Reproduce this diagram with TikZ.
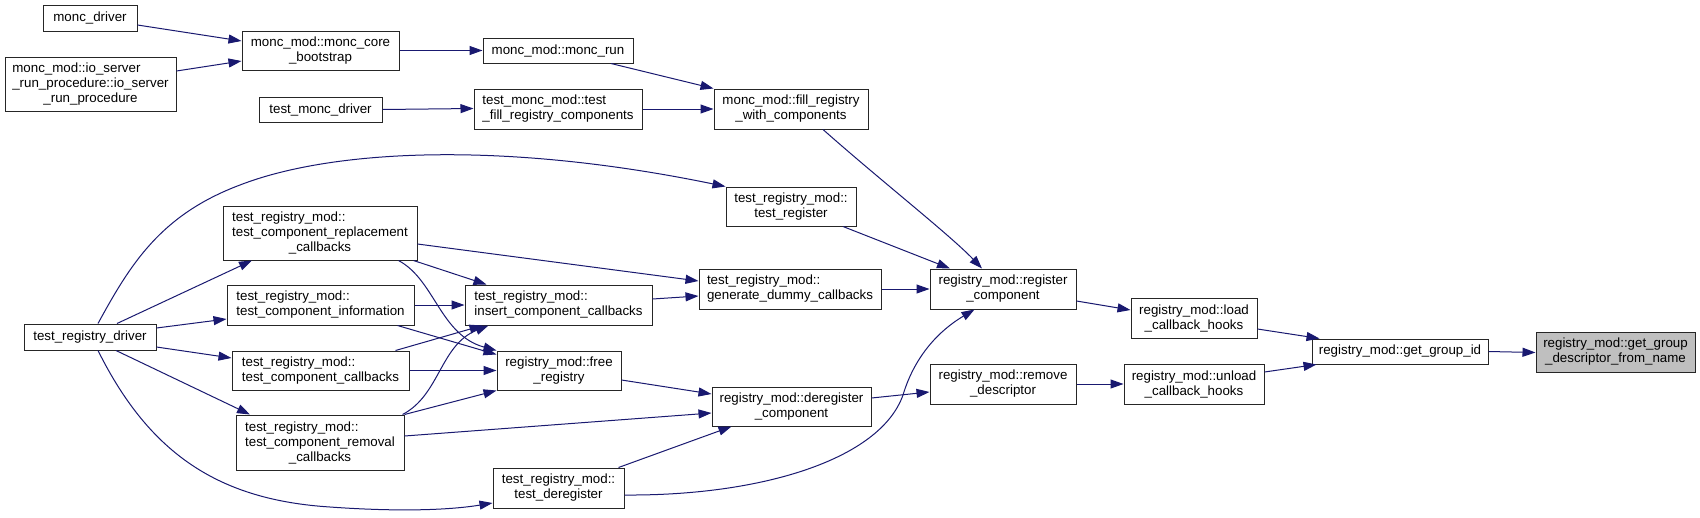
\documentclass[tikz,border=0pt]{standalone}
\usepackage{fontspec}
\setmainfont{Liberation Sans}
\usetikzlibrary{arrows.meta}
\definecolor{edgec}{RGB}{25,25,112}
\definecolor{hl}{RGB}{191,191,191}
\newlength\firstlw
\newcommand\firstl[2]{\settowidth\firstlw{#2}\makebox[\firstlw][l]{#1}}
\tikzset{
  fn/.style={draw=black!85, line width=1pt, fill=white, rectangle, inner sep=0pt,
    align=center, font=\fontsize{13.33}{15}\selectfont},
  call/.style={draw=edgec, line width=1pt, -{Triangle[length=13pt,width=9pt]}, edgec}
}
\begin{document}
\begin{tikzpicture}[x=1pt,y=-1pt]
\useasboundingbox[fill=white] (0,0) rectangle (1700,517);
% nodes
\node[fn, minimum width=94, minimum height=26] (mdrv) at (90,18) {monc\_driver};
\node[fn, minimum width=157, minimum height=39] (mcb) at (320.5,50.5) {monc\_mod::monc\_core\\\_bootstrap};
\node[fn, minimum width=171, minimum height=54] (ios) at (90.5,84) {\firstl{monc\_mod::io\_server}{\_run\_procedure::io\_server}\\\_run\_procedure::io\_server\\\_run\_procedure};
\node[fn, minimum width=123, minimum height=25] (tmd) at (320.5,109.5) {test\_monc\_driver};
\node[fn, minimum width=150, minimum height=25] (mrun) at (558,50.5) {monc\_mod::monc\_run};
\node[fn, minimum width=168, minimum height=40] (tfrc) at (558,109) {\firstl{test\_monc\_mod::test}{\_fill\_registry\_components}\\\_fill\_registry\_components};
\node[fn, minimum width=154, minimum height=40] (frwc) at (791,109) {monc\_mod::fill\_registry\\\_with\_components};
\node[fn, minimum width=132, minimum height=26] (trd) at (90,337) {test\_registry\_driver};
\node[fn, minimum width=194, minimum height=54] (tcrc) at (320,233) {\firstl{test\_registry\_mod::}{test\_component\_replacement}\\test\_component\_replacement\\\_callbacks};
\node[fn, minimum width=187, minimum height=40] (tci) at (320.5,305) {\firstl{test\_registry\_mod::}{test\_component\_information}\\test\_component\_information};
\node[fn, minimum width=177, minimum height=39] (tcc) at (320.5,370.5) {\firstl{test\_registry\_mod::}{test\_component\_callbacks}\\test\_component\_callbacks};
\node[fn, minimum width=168, minimum height=55] (tcrm) at (320,442.5) {\firstl{test\_registry\_mod::}{test\_component\_removal}\\test\_component\_removal\\\_callbacks};
\node[fn, minimum width=130, minimum height=39] (treg) at (791,206.5) {test\_registry\_mod::\\test\_register};
\node[fn, minimum width=182, minimum height=40] (gdc) at (790,289) {\firstl{test\_registry\_mod::}{generate\_dummy\_callbacks}\\generate\_dummy\_callbacks};
\node[fn, minimum width=187, minimum height=40] (icc) at (558.5,305) {\firstl{test\_registry\_mod::}{insert\_component\_callbacks}\\insert\_component\_callbacks};
\node[fn, minimum width=124, minimum height=39] (free) at (559,370.5) {registry\_mod::free\\\_registry};
\node[fn, minimum width=159, minimum height=39] (dreg) at (791.5,406.5) {registry\_mod::deregister\\\_component};
\node[fn, minimum width=131, minimum height=40] (tdreg) at (558.5,488) {test\_registry\_mod::\\test\_deregister};
\node[fn, minimum width=146, minimum height=40] (rc) at (1003,289) {registry\_mod::register\\\_component};
\node[fn, minimum width=126, minimum height=40] (lch) at (1194,318) {registry\_mod::load\\\_callback\_hooks};
\node[fn, minimum width=146, minimum height=40] (rd) at (1003,384) {registry\_mod::remove\\\_descriptor};
\node[fn, minimum width=140, minimum height=40] (uch) at (1194,384) {registry\_mod::unload\\\_callback\_hooks};
\node[fn, minimum width=176, minimum height=25] (ggid) at (1400,351.5) {registry\_mod::get\_group\_id};
\node[fn, fill=hl, minimum width=159, minimum height=40] (ggd) at (1615.5,352) {registry\_mod::get\_group\\\_descriptor\_from\_name};
% edges
\draw[call] ([yshift=-7]mdrv.east) -- ([yshift=9.5]mcb.west);
\draw[call] ([yshift=13]ios.east) -- ([yshift=-10.5]mcb.west);
\draw[call] (mcb.east) -- (mrun.west);
\draw[call] (tmd.east) -- ([yshift=0.5]tfrc.west);
\draw[call] ([xshift=53]mrun.south) -- (frwc.north west);
\draw[call] (tfrc.east) -- (frwc.west);
\draw[call] ([xshift=32]frwc.south) .. controls (880,180) and (950,235) .. ([xshift=-21]rc.north);
\draw[call] ([xshift=8]trd.north) .. controls (130,265) and (160,215) .. (240,185) .. controls (330,150) and (500,140) .. (treg.north west);
\draw[call] ([xshift=27]trd.north) -- ([xshift=-68]tcrc.south);
\draw[call] ([yshift=9]trd.east) -- ([yshift=-14]tci.west);
\draw[call] ([yshift=-10]trd.east) -- ([yshift=12.5]tcc.west);
\draw[call] ([xshift=26]trd.south) -- ([xshift=-70]tcrm.north);
\draw[call] ([xshift=8]trd.south) .. controls (150,455) and (220,500) .. (330,507) .. controls (400,512) and (450,510) .. ([yshift=-15]tdreg.west);
\draw[call] ([xshift=52]treg.south) -- ([xshift=-53]rc.north);
\draw[call] ([yshift=-11]tcrc.east) -- ([yshift=8]gdc.west);
\draw[call] ([xshift=-4]tcrc.south east) -- ([xshift=22]icc.north west);
\draw[call] ([xshift=-19]tcrc.south east) .. controls (435,280) and (440,335) .. (free.north west);
\draw[call] (tci.east) -- (icc.west);
\draw[call] ([xshift=-17]tci.south east) -- ([yshift=-4]free.north west);
\draw[call] ([xshift=-14]tcc.north east) -- ([xshift=18]icc.south west);
\draw[call] (tcc.east) -- (free.west);
\draw[call] ([xshift=-2]tcrm.north east) .. controls (440,395) and (440,345) .. ([xshift=24]icc.south west);
\draw[call] (tcrm.north east) -- (free.south west);
\draw[call] ([yshift=6.5]tcrm.east) -- ([yshift=-6.5]dreg.west);
\draw[call] ([yshift=6]icc.east) -- ([yshift=-7]gdc.west);
\draw[call] (gdc.east) -- (rc.west);
\draw[call] ([yshift=-9.5]free.east) -- ([yshift=12.5]dreg.west);
\draw[call] ([xshift=-6]tdreg.north east) -- ([xshift=20]dreg.south west);
\draw[call] ([yshift=-7]tdreg.east) .. controls (760,496) and (880,460) .. (903,395) .. controls (915,355) and (940,330) .. ([xshift=45]rc.south west);
\draw[call] ([yshift=8.5]dreg.east) -- ([yshift=-8]rd.west);
\draw[call] ([yshift=-12]rc.east) -- ([yshift=8]lch.west);
\draw[call] (rd.east) -- (uch.west);
\draw[call] ([yshift=-11]lch.east) -- ([xshift=8]ggid.north west);
\draw[call] ([yshift=12]uch.east) -- ([xshift=5]ggid.south west);
\draw[call] (ggid.east) -- ([yshift=-0.5]ggd.west);
\end{tikzpicture}
\end{document}
